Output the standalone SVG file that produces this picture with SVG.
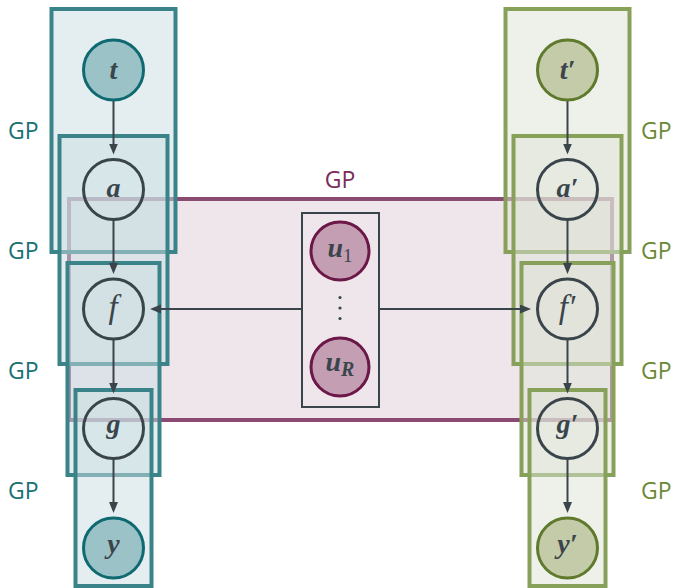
<svg xmlns="http://www.w3.org/2000/svg" width="675" height="588" viewBox="0 0 675 588">
<defs>
<style>
.pt{fill:#c9dde1;fill-opacity:0.5;stroke:#3a8388;stroke-width:4}
.pg{fill:#dde3d5;fill-opacity:0.5;stroke:#87a05a;stroke-width:4}
.pm{fill:#efe6ec;stroke:#8b4a72;stroke-width:4}
.gpt{font-family:"Open Sans","Noto Sans",sans-serif;font-size:23px;fill:#1a6f74}
.gpg{font-family:"Open Sans","Noto Sans",sans-serif;font-size:23px;fill:#6b8a35}
.gpm{font-family:"Open Sans","Noto Sans",sans-serif;font-size:23px;fill:#7a2c5c;text-anchor:middle}
.lat{fill:none;stroke:#3a454b;stroke-width:3}
.obt{fill:#9bc2c6;stroke:#0e6a70;stroke-width:3}
.obg{fill:#c3cba8;stroke:#5f7a2c;stroke-width:3}
.ind{fill:#c49fb4;stroke:#6b1747;stroke-width:3}
.lbl{font-family:"Liberation Serif","DejaVu Serif",serif;font-style:italic;font-weight:bold;font-size:28px;fill:#3a454b;text-anchor:middle}
.thin{font-weight:normal;font-size:33px}
.edge{fill:none;stroke:#3a454b;stroke-width:2}
</style>
<marker id="ah" markerUnits="userSpaceOnUse" markerWidth="12" markerHeight="10" refX="1" refY="4.5" orient="auto">
<path d="M0,0 L11,4.5 L0,9 z" fill="#3a454b"/>
</marker>
</defs>
<rect width="675" height="588" fill="#ffffff"/>

<g id="plate-shared">
<rect class="pm" x="69" y="199" width="543" height="221"/>
<text class="gpm" x="340" y="188">GP</text>
</g>

<g id="plates-left">
<rect id="plate-t" class="pt" x="51.5" y="9" width="124" height="243"/>
<rect id="plate-a" class="pt" x="59.5" y="136" width="108" height="228"/>
<rect id="plate-f" class="pt" x="67.5" y="263" width="92" height="212"/>
<rect id="plate-g" class="pt" x="75.5" y="390" width="76" height="196"/>
<text class="gpt" x="8" y="139">GP</text>
<text class="gpt" x="8" y="259">GP</text>
<text class="gpt" x="8" y="379">GP</text>
<text class="gpt" x="8" y="499">GP</text>
</g>

<g id="plates-right">
<rect id="plate-t2" class="pg" x="505.5" y="9" width="124" height="243"/>
<rect id="plate-a2" class="pg" x="513.5" y="136" width="108" height="228"/>
<rect id="plate-f2" class="pg" x="521.5" y="263" width="92" height="212"/>
<rect id="plate-g2" class="pg" x="529.5" y="390" width="76" height="196"/>
<text class="gpg" x="641" y="139">GP</text>
<text class="gpg" x="641" y="259">GP</text>
<text class="gpg" x="641" y="379">GP</text>
<text class="gpg" x="641" y="499">GP</text>
</g>

<g id="inducing">
<rect x="302" y="213" width="77" height="194" fill="none" stroke="#3a454b" stroke-width="2"/>
<circle class="ind" cx="340" cy="251" r="29"/>
<text class="lbl" x="340" y="257">u<tspan font-size="19" font-style="normal" font-weight="normal" dy="5">1</tspan></text>
<circle cx="340" cy="297.5" r="1.6" fill="#3a454b"/>
<circle cx="340" cy="308" r="1.6" fill="#3a454b"/>
<circle cx="340" cy="318.5" r="1.6" fill="#3a454b"/>
<circle class="ind" cx="340" cy="367" r="29"/>
<text class="lbl" x="340" y="371">u<tspan font-size="20" dy="5">R</tspan></text>
</g>

<g id="connectors">
<line class="edge" x1="113.5" y1="100.5" x2="113.5" y2="144.5" marker-end="url(#ah)"/>
<line class="edge" x1="113.5" y1="219.5" x2="113.5" y2="264" marker-end="url(#ah)"/>
<line class="edge" x1="113.5" y1="339" x2="113.5" y2="383.5" marker-end="url(#ah)"/>
<line class="edge" x1="113.5" y1="458.5" x2="113.5" y2="503" marker-end="url(#ah)"/>
<line class="edge" x1="567.5" y1="100.5" x2="567.5" y2="144.5" marker-end="url(#ah)"/>
<line class="edge" x1="567.5" y1="219.5" x2="567.5" y2="264" marker-end="url(#ah)"/>
<line class="edge" x1="567.5" y1="339" x2="567.5" y2="383.5" marker-end="url(#ah)"/>
<line class="edge" x1="567.5" y1="458.5" x2="567.5" y2="503" marker-end="url(#ah)"/>
<line class="edge" x1="302" y1="309" x2="160" y2="309" marker-end="url(#ah)"/>
<line class="edge" x1="379" y1="309" x2="521" y2="309" marker-end="url(#ah)"/>
</g>

<g id="node-t"><circle class="obt" cx="113.5" cy="70" r="30"/><text class="lbl" x="113.5" y="79">t</text></g>
<g id="node-a"><circle class="lat" cx="113.5" cy="189.5" r="30"/><text class="lbl" x="113.5" y="197">a</text></g>
<g id="node-f"><circle class="lat" cx="113.5" cy="309" r="30"/><text class="lbl thin" x="113" y="318">f</text></g>
<g id="node-g"><circle class="lat" cx="113.5" cy="428.5" r="30"/><text class="lbl" x="113.5" y="433">g</text></g>
<g id="node-y"><circle class="obt" cx="113.5" cy="548" r="30"/><text class="lbl" x="113.5" y="553">y</text></g>

<g id="node-t2"><circle class="obg" cx="567.5" cy="70" r="30"/><text class="lbl" x="567.5" y="79">t′</text></g>
<g id="node-a2"><circle class="lat" cx="567.5" cy="189.5" r="30"/><text class="lbl" x="567.5" y="197">a′</text></g>
<g id="node-f2"><circle class="lat" cx="567.5" cy="309" r="30"/><text class="lbl thin" x="567" y="318">f′</text></g>
<g id="node-g2"><circle class="lat" cx="567.5" cy="428.5" r="30"/><text class="lbl" x="567.5" y="433">g′</text></g>
<g id="node-y2"><circle class="obg" cx="567.5" cy="548" r="30"/><text class="lbl" x="567.5" y="553">y′</text></g>
</svg>
